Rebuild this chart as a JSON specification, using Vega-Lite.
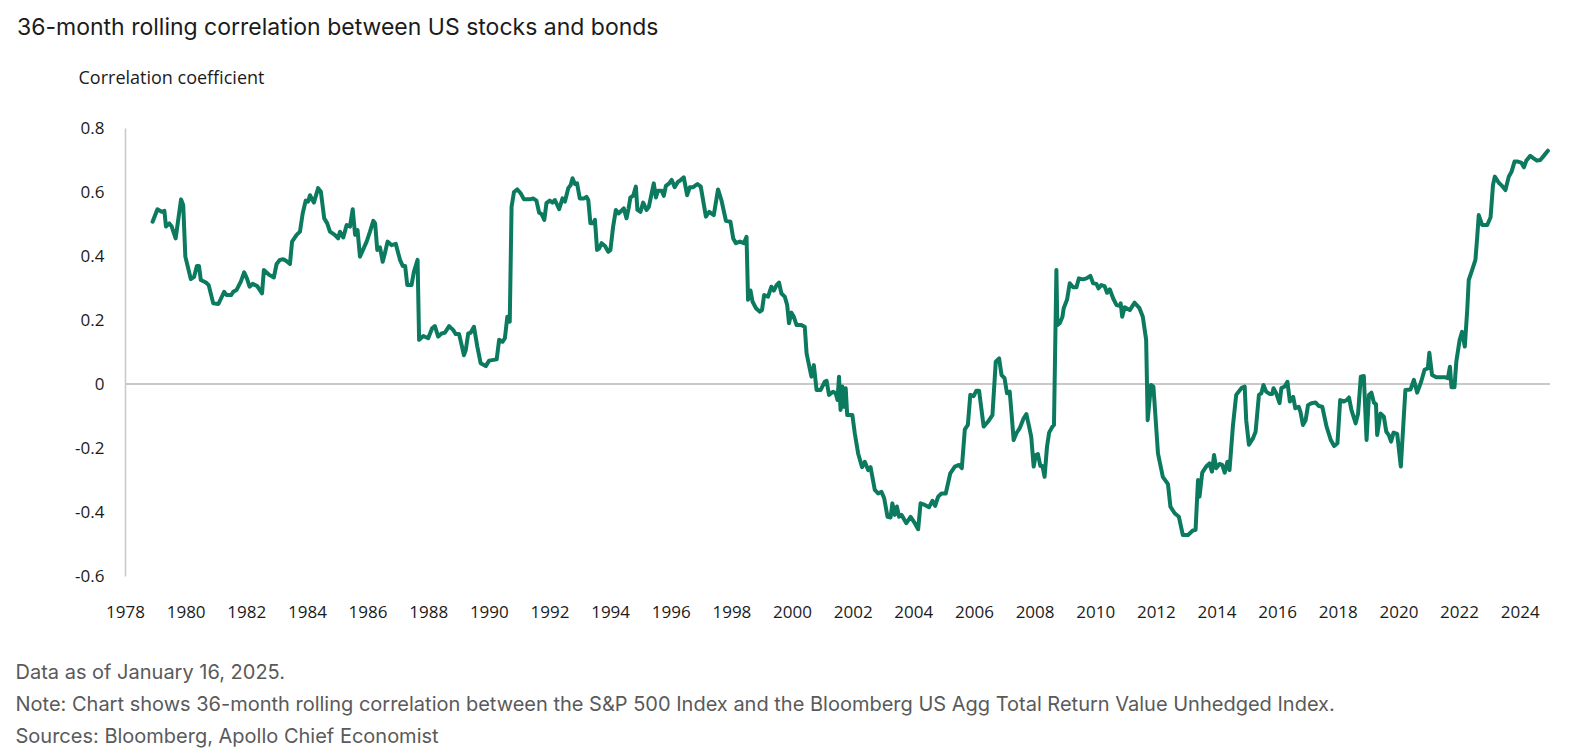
{
  "$schema": "https://vega.github.io/schema/vega-lite/v6.json",
  "autosize": "none",
  "width": 1425,
  "height": 448,
  "padding": {"left": 125, "top": 128, "right": 35, "bottom": 180},
  "background": "white",
  "title": {
    "text": "36-month rolling correlation between US stocks and bonds",
    "anchor": "start",
    "frame": "group",
    "dx": -108,
    "dy": -25,
    "font": "Inter",
    "fontSize": 23,
    "fontWeight": "normal",
    "color": "#1b1b1b"
  },
  "config": {"view": {"stroke": null}},
  "data": {
    "values": [
      {"year": 1978.91, "corr": 0.507}, {"year": 1979.07, "corr": 0.546}, {"year": 1979.21, "corr": 0.538},
      {"year": 1979.30, "corr": 0.541}, {"year": 1979.35, "corr": 0.492}, {"year": 1979.46, "corr": 0.502},
      {"year": 1979.54, "corr": 0.492}, {"year": 1979.67, "corr": 0.455}, {"year": 1979.77, "corr": 0.523},
      {"year": 1979.85, "corr": 0.577}, {"year": 1979.92, "corr": 0.559}, {"year": 1979.99, "corr": 0.398},
      {"year": 1980.17, "corr": 0.328}, {"year": 1980.28, "corr": 0.335}, {"year": 1980.37, "corr": 0.369},
      {"year": 1980.44, "corr": 0.369}, {"year": 1980.50, "corr": 0.325}, {"year": 1980.67, "corr": 0.317},
      {"year": 1980.76, "corr": 0.309}, {"year": 1980.91, "corr": 0.252}, {"year": 1981.08, "corr": 0.250},
      {"year": 1981.27, "corr": 0.288}, {"year": 1981.35, "corr": 0.278}, {"year": 1981.50, "corr": 0.278},
      {"year": 1981.57, "corr": 0.288}, {"year": 1981.68, "corr": 0.294}, {"year": 1981.82, "corr": 0.320},
      {"year": 1981.93, "corr": 0.349}, {"year": 1982.02, "corr": 0.330}, {"year": 1982.11, "corr": 0.304},
      {"year": 1982.21, "corr": 0.313}, {"year": 1982.36, "corr": 0.306}, {"year": 1982.52, "corr": 0.283},
      {"year": 1982.58, "corr": 0.356}, {"year": 1982.76, "corr": 0.341}, {"year": 1982.91, "corr": 0.333},
      {"year": 1983.00, "corr": 0.375}, {"year": 1983.11, "corr": 0.388}, {"year": 1983.22, "corr": 0.390},
      {"year": 1983.31, "corr": 0.385}, {"year": 1983.44, "corr": 0.375}, {"year": 1983.51, "corr": 0.445},
      {"year": 1983.66, "corr": 0.466}, {"year": 1983.77, "corr": 0.476}, {"year": 1983.86, "corr": 0.533},
      {"year": 1983.96, "corr": 0.573}, {"year": 1984.04, "corr": 0.570}, {"year": 1984.10, "corr": 0.590},
      {"year": 1984.23, "corr": 0.567}, {"year": 1984.37, "corr": 0.612}, {"year": 1984.46, "corr": 0.601},
      {"year": 1984.57, "corr": 0.518}, {"year": 1984.67, "corr": 0.502}, {"year": 1984.76, "corr": 0.476},
      {"year": 1984.92, "corr": 0.466}, {"year": 1985.03, "corr": 0.455}, {"year": 1985.09, "corr": 0.476},
      {"year": 1985.20, "corr": 0.458}, {"year": 1985.31, "corr": 0.497}, {"year": 1985.42, "corr": 0.492},
      {"year": 1985.51, "corr": 0.546}, {"year": 1985.59, "corr": 0.466}, {"year": 1985.67, "corr": 0.481},
      {"year": 1985.75, "corr": 0.398}, {"year": 1985.97, "corr": 0.445}, {"year": 1986.08, "corr": 0.476},
      {"year": 1986.19, "corr": 0.510}, {"year": 1986.25, "corr": 0.502}, {"year": 1986.32, "corr": 0.419},
      {"year": 1986.41, "corr": 0.427}, {"year": 1986.50, "corr": 0.382}, {"year": 1986.57, "corr": 0.408},
      {"year": 1986.66, "corr": 0.445}, {"year": 1986.79, "corr": 0.434}, {"year": 1986.93, "corr": 0.438},
      {"year": 1987.07, "corr": 0.388}, {"year": 1987.16, "corr": 0.369}, {"year": 1987.24, "corr": 0.369},
      {"year": 1987.31, "corr": 0.309}, {"year": 1987.45, "corr": 0.309}, {"year": 1987.53, "corr": 0.351},
      {"year": 1987.65, "corr": 0.388}, {"year": 1987.70, "corr": 0.138}, {"year": 1987.84, "corr": 0.150},
      {"year": 1988.00, "corr": 0.143}, {"year": 1988.13, "corr": 0.174}, {"year": 1988.22, "corr": 0.181},
      {"year": 1988.33, "corr": 0.148}, {"year": 1988.44, "corr": 0.158}, {"year": 1988.55, "corr": 0.160},
      {"year": 1988.69, "corr": 0.181}, {"year": 1988.82, "corr": 0.169}, {"year": 1988.91, "corr": 0.156},
      {"year": 1989.02, "corr": 0.156}, {"year": 1989.18, "corr": 0.090}, {"year": 1989.24, "corr": 0.106},
      {"year": 1989.32, "corr": 0.158}, {"year": 1989.40, "corr": 0.160}, {"year": 1989.51, "corr": 0.179},
      {"year": 1989.62, "corr": 0.117}, {"year": 1989.73, "corr": 0.065}, {"year": 1989.90, "corr": 0.056},
      {"year": 1990.01, "corr": 0.073}, {"year": 1990.26, "corr": 0.077}, {"year": 1990.34, "corr": 0.138},
      {"year": 1990.45, "corr": 0.132}, {"year": 1990.53, "corr": 0.143}, {"year": 1990.61, "corr": 0.210},
      {"year": 1990.69, "corr": 0.195}, {"year": 1990.75, "corr": 0.554}, {"year": 1990.83, "corr": 0.600},
      {"year": 1990.94, "corr": 0.608}, {"year": 1991.05, "corr": 0.596}, {"year": 1991.16, "corr": 0.577},
      {"year": 1991.35, "corr": 0.577}, {"year": 1991.46, "corr": 0.580}, {"year": 1991.57, "corr": 0.573},
      {"year": 1991.66, "corr": 0.535}, {"year": 1991.74, "corr": 0.531}, {"year": 1991.83, "corr": 0.513},
      {"year": 1991.90, "corr": 0.565}, {"year": 1992.01, "corr": 0.573}, {"year": 1992.10, "corr": 0.567},
      {"year": 1992.18, "corr": 0.575}, {"year": 1992.32, "corr": 0.546}, {"year": 1992.43, "corr": 0.580},
      {"year": 1992.51, "corr": 0.570}, {"year": 1992.62, "corr": 0.612}, {"year": 1992.70, "corr": 0.622},
      {"year": 1992.76, "corr": 0.643}, {"year": 1992.84, "corr": 0.625}, {"year": 1992.91, "corr": 0.627},
      {"year": 1993.00, "corr": 0.580}, {"year": 1993.14, "corr": 0.580}, {"year": 1993.22, "corr": 0.585},
      {"year": 1993.28, "corr": 0.575}, {"year": 1993.35, "corr": 0.502}, {"year": 1993.44, "corr": 0.502},
      {"year": 1993.50, "corr": 0.513}, {"year": 1993.57, "corr": 0.419}, {"year": 1993.64, "corr": 0.424},
      {"year": 1993.72, "corr": 0.440}, {"year": 1993.83, "corr": 0.431}, {"year": 1993.94, "corr": 0.413},
      {"year": 1994.01, "corr": 0.419}, {"year": 1994.10, "corr": 0.492}, {"year": 1994.19, "corr": 0.544},
      {"year": 1994.28, "corr": 0.533}, {"year": 1994.38, "corr": 0.542}, {"year": 1994.45, "corr": 0.549},
      {"year": 1994.54, "corr": 0.518}, {"year": 1994.61, "corr": 0.549}, {"year": 1994.67, "corr": 0.583},
      {"year": 1994.76, "corr": 0.588}, {"year": 1994.85, "corr": 0.617}, {"year": 1994.90, "corr": 0.544},
      {"year": 1995.00, "corr": 0.538}, {"year": 1995.09, "corr": 0.567}, {"year": 1995.20, "corr": 0.544},
      {"year": 1995.28, "corr": 0.554}, {"year": 1995.37, "corr": 0.596}, {"year": 1995.44, "corr": 0.627},
      {"year": 1995.51, "corr": 0.583}, {"year": 1995.58, "corr": 0.604}, {"year": 1995.70, "corr": 0.604},
      {"year": 1995.77, "corr": 0.588}, {"year": 1995.84, "corr": 0.619}, {"year": 1995.95, "corr": 0.627},
      {"year": 1996.03, "corr": 0.638}, {"year": 1996.13, "corr": 0.615}, {"year": 1996.24, "corr": 0.632},
      {"year": 1996.30, "corr": 0.635}, {"year": 1996.43, "corr": 0.646}, {"year": 1996.54, "corr": 0.590},
      {"year": 1996.63, "corr": 0.615}, {"year": 1996.74, "corr": 0.615}, {"year": 1996.88, "corr": 0.625},
      {"year": 1996.99, "corr": 0.617}, {"year": 1997.16, "corr": 0.523}, {"year": 1997.27, "corr": 0.538},
      {"year": 1997.42, "corr": 0.528}, {"year": 1997.56, "corr": 0.608}, {"year": 1997.67, "corr": 0.575},
      {"year": 1997.82, "corr": 0.510}, {"year": 1997.97, "corr": 0.507}, {"year": 1998.06, "corr": 0.455},
      {"year": 1998.15, "corr": 0.440}, {"year": 1998.28, "corr": 0.445}, {"year": 1998.41, "corr": 0.440},
      {"year": 1998.50, "corr": 0.460}, {"year": 1998.55, "corr": 0.263}, {"year": 1998.63, "corr": 0.292},
      {"year": 1998.70, "corr": 0.257}, {"year": 1998.81, "corr": 0.237}, {"year": 1998.94, "corr": 0.226},
      {"year": 1999.01, "corr": 0.231}, {"year": 1999.08, "corr": 0.278}, {"year": 1999.21, "corr": 0.273},
      {"year": 1999.32, "corr": 0.304}, {"year": 1999.40, "corr": 0.292}, {"year": 1999.49, "corr": 0.309},
      {"year": 1999.57, "corr": 0.317}, {"year": 1999.65, "corr": 0.283}, {"year": 1999.76, "corr": 0.273},
      {"year": 1999.84, "corr": 0.247}, {"year": 1999.90, "corr": 0.190}, {"year": 1999.98, "corr": 0.223},
      {"year": 2000.06, "corr": 0.210}, {"year": 2000.15, "corr": 0.184}, {"year": 2000.31, "corr": 0.184},
      {"year": 2000.42, "corr": 0.179}, {"year": 2000.48, "corr": 0.096}, {"year": 2000.56, "corr": 0.059},
      {"year": 2000.64, "corr": 0.023}, {"year": 2000.72, "corr": 0.059}, {"year": 2000.81, "corr": -0.019},
      {"year": 2000.94, "corr": -0.019}, {"year": 2001.08, "corr": 0.007}, {"year": 2001.14, "corr": 0.010},
      {"year": 2001.22, "corr": -0.034}, {"year": 2001.35, "corr": -0.024}, {"year": 2001.44, "corr": -0.029},
      {"year": 2001.50, "corr": -0.050}, {"year": 2001.55, "corr": 0.023}, {"year": 2001.60, "corr": -0.081},
      {"year": 2001.66, "corr": -0.008}, {"year": 2001.71, "corr": -0.071}, {"year": 2001.77, "corr": -0.013},
      {"year": 2001.82, "corr": -0.097}, {"year": 2001.99, "corr": -0.097}, {"year": 2002.07, "corr": -0.154},
      {"year": 2002.18, "corr": -0.217}, {"year": 2002.31, "corr": -0.260}, {"year": 2002.40, "corr": -0.243},
      {"year": 2002.51, "corr": -0.269}, {"year": 2002.59, "corr": -0.260}, {"year": 2002.73, "corr": -0.331},
      {"year": 2002.84, "corr": -0.342}, {"year": 2002.95, "corr": -0.337}, {"year": 2003.04, "corr": -0.357},
      {"year": 2003.15, "corr": -0.415}, {"year": 2003.25, "corr": -0.417}, {"year": 2003.31, "corr": -0.373},
      {"year": 2003.39, "corr": -0.409}, {"year": 2003.46, "corr": -0.383}, {"year": 2003.53, "corr": -0.415},
      {"year": 2003.61, "corr": -0.409}, {"year": 2003.68, "corr": -0.420}, {"year": 2003.77, "corr": -0.435},
      {"year": 2003.91, "corr": -0.415}, {"year": 2004.05, "corr": -0.435}, {"year": 2004.16, "corr": -0.454},
      {"year": 2004.24, "corr": -0.373}, {"year": 2004.38, "corr": -0.378}, {"year": 2004.52, "corr": -0.385},
      {"year": 2004.63, "corr": -0.365}, {"year": 2004.72, "corr": -0.381}, {"year": 2004.82, "corr": -0.352},
      {"year": 2004.93, "corr": -0.342}, {"year": 2005.07, "corr": -0.342}, {"year": 2005.22, "corr": -0.279},
      {"year": 2005.37, "corr": -0.258}, {"year": 2005.51, "corr": -0.253}, {"year": 2005.60, "corr": -0.263},
      {"year": 2005.70, "corr": -0.142}, {"year": 2005.80, "corr": -0.128}, {"year": 2005.88, "corr": -0.034},
      {"year": 2005.99, "corr": -0.038}, {"year": 2006.08, "corr": -0.021}, {"year": 2006.17, "corr": -0.021},
      {"year": 2006.32, "corr": -0.133}, {"year": 2006.46, "corr": -0.118}, {"year": 2006.61, "corr": -0.097},
      {"year": 2006.72, "corr": 0.070}, {"year": 2006.83, "corr": 0.080}, {"year": 2006.91, "corr": 0.028},
      {"year": 2007.01, "corr": 0.018}, {"year": 2007.09, "corr": -0.029}, {"year": 2007.18, "corr": -0.024},
      {"year": 2007.24, "corr": -0.092}, {"year": 2007.31, "corr": -0.175}, {"year": 2007.40, "corr": -0.154},
      {"year": 2007.51, "corr": -0.138}, {"year": 2007.64, "corr": -0.107}, {"year": 2007.73, "corr": -0.094},
      {"year": 2007.82, "corr": -0.133}, {"year": 2007.89, "corr": -0.165}, {"year": 2007.97, "corr": -0.258},
      {"year": 2008.04, "corr": -0.222}, {"year": 2008.11, "corr": -0.219}, {"year": 2008.19, "corr": -0.256},
      {"year": 2008.26, "corr": -0.256}, {"year": 2008.33, "corr": -0.290}, {"year": 2008.41, "corr": -0.196},
      {"year": 2008.48, "corr": -0.152}, {"year": 2008.59, "corr": -0.133}, {"year": 2008.64, "corr": -0.128},
      {"year": 2008.72, "corr": 0.356}, {"year": 2008.75, "corr": 0.184}, {"year": 2008.83, "corr": 0.190},
      {"year": 2008.92, "corr": 0.210}, {"year": 2008.96, "corr": 0.237}, {"year": 2009.07, "corr": 0.263},
      {"year": 2009.16, "corr": 0.315}, {"year": 2009.27, "corr": 0.302}, {"year": 2009.38, "corr": 0.302},
      {"year": 2009.46, "corr": 0.330}, {"year": 2009.60, "corr": 0.327}, {"year": 2009.71, "corr": 0.330},
      {"year": 2009.84, "corr": 0.338}, {"year": 2009.93, "corr": 0.315}, {"year": 2010.04, "corr": 0.313},
      {"year": 2010.11, "corr": 0.299}, {"year": 2010.20, "corr": 0.309}, {"year": 2010.31, "corr": 0.306},
      {"year": 2010.39, "corr": 0.285}, {"year": 2010.48, "corr": 0.296}, {"year": 2010.59, "corr": 0.268},
      {"year": 2010.70, "corr": 0.247}, {"year": 2010.81, "corr": 0.244}, {"year": 2010.84, "corr": 0.252},
      {"year": 2010.89, "corr": 0.210}, {"year": 2010.97, "corr": 0.240}, {"year": 2011.14, "corr": 0.231},
      {"year": 2011.30, "corr": 0.254}, {"year": 2011.46, "corr": 0.237}, {"year": 2011.57, "corr": 0.210},
      {"year": 2011.68, "corr": 0.138}, {"year": 2011.73, "corr": -0.113}, {"year": 2011.84, "corr": -0.003},
      {"year": 2011.92, "corr": -0.008}, {"year": 2012.07, "corr": -0.217}, {"year": 2012.23, "corr": -0.290},
      {"year": 2012.40, "corr": -0.313}, {"year": 2012.48, "corr": -0.383}, {"year": 2012.62, "corr": -0.404},
      {"year": 2012.76, "corr": -0.415}, {"year": 2012.89, "corr": -0.472}, {"year": 2013.06, "corr": -0.472},
      {"year": 2013.22, "corr": -0.458}, {"year": 2013.31, "corr": -0.456}, {"year": 2013.39, "corr": -0.300},
      {"year": 2013.44, "corr": -0.352}, {"year": 2013.53, "corr": -0.277}, {"year": 2013.66, "corr": -0.258},
      {"year": 2013.77, "corr": -0.248}, {"year": 2013.85, "corr": -0.274}, {"year": 2013.92, "corr": -0.222},
      {"year": 2013.99, "corr": -0.263}, {"year": 2014.10, "corr": -0.250}, {"year": 2014.19, "corr": -0.253},
      {"year": 2014.27, "corr": -0.277}, {"year": 2014.36, "corr": -0.243}, {"year": 2014.43, "corr": -0.269},
      {"year": 2014.54, "corr": -0.133}, {"year": 2014.65, "corr": -0.034}, {"year": 2014.82, "corr": -0.013},
      {"year": 2014.93, "corr": -0.008}, {"year": 2014.98, "corr": -0.113}, {"year": 2015.07, "corr": -0.190},
      {"year": 2015.20, "corr": -0.170}, {"year": 2015.29, "corr": -0.149}, {"year": 2015.40, "corr": -0.034},
      {"year": 2015.48, "corr": -0.029}, {"year": 2015.55, "corr": -0.003}, {"year": 2015.64, "corr": -0.024},
      {"year": 2015.75, "corr": -0.031}, {"year": 2015.84, "corr": -0.031}, {"year": 2015.88, "corr": -0.013},
      {"year": 2015.97, "corr": -0.029}, {"year": 2016.08, "corr": -0.060}, {"year": 2016.14, "corr": -0.013},
      {"year": 2016.25, "corr": -0.008}, {"year": 2016.34, "corr": 0.007}, {"year": 2016.42, "corr": -0.055},
      {"year": 2016.53, "corr": -0.040}, {"year": 2016.60, "corr": -0.076}, {"year": 2016.71, "corr": -0.071},
      {"year": 2016.77, "corr": -0.087}, {"year": 2016.85, "corr": -0.128}, {"year": 2016.94, "corr": -0.113},
      {"year": 2017.02, "corr": -0.066}, {"year": 2017.13, "corr": -0.060}, {"year": 2017.27, "corr": -0.058},
      {"year": 2017.38, "corr": -0.069}, {"year": 2017.49, "corr": -0.071}, {"year": 2017.63, "corr": -0.133},
      {"year": 2017.77, "corr": -0.175}, {"year": 2017.88, "corr": -0.194}, {"year": 2017.99, "corr": -0.185},
      {"year": 2018.08, "corr": -0.050}, {"year": 2018.19, "corr": -0.055}, {"year": 2018.30, "corr": -0.050},
      {"year": 2018.37, "corr": -0.042}, {"year": 2018.45, "corr": -0.081}, {"year": 2018.59, "corr": -0.123},
      {"year": 2018.67, "corr": -0.092}, {"year": 2018.76, "corr": 0.023}, {"year": 2018.86, "corr": 0.025},
      {"year": 2018.95, "corr": -0.175}, {"year": 2019.03, "corr": -0.034}, {"year": 2019.11, "corr": -0.027},
      {"year": 2019.19, "corr": -0.058}, {"year": 2019.26, "corr": -0.063}, {"year": 2019.30, "corr": -0.159},
      {"year": 2019.41, "corr": -0.092}, {"year": 2019.52, "corr": -0.102}, {"year": 2019.60, "corr": -0.149},
      {"year": 2019.68, "corr": -0.159}, {"year": 2019.76, "corr": -0.180}, {"year": 2019.84, "corr": -0.152},
      {"year": 2019.96, "corr": -0.156}, {"year": 2020.08, "corr": -0.258}, {"year": 2020.23, "corr": -0.019},
      {"year": 2020.40, "corr": -0.017}, {"year": 2020.51, "corr": 0.013}, {"year": 2020.62, "corr": -0.027},
      {"year": 2020.75, "corr": 0.007}, {"year": 2020.86, "corr": 0.044}, {"year": 2020.97, "corr": 0.049},
      {"year": 2021.02, "corr": 0.098}, {"year": 2021.11, "corr": 0.028}, {"year": 2021.25, "corr": 0.021},
      {"year": 2021.42, "corr": 0.021}, {"year": 2021.55, "corr": 0.021}, {"year": 2021.63, "corr": 0.018},
      {"year": 2021.70, "corr": 0.054}, {"year": 2021.75, "corr": -0.010}, {"year": 2021.85, "corr": -0.010},
      {"year": 2021.91, "corr": 0.070}, {"year": 2022.02, "corr": 0.138}, {"year": 2022.10, "corr": 0.163},
      {"year": 2022.19, "corr": 0.117}, {"year": 2022.27, "corr": 0.231}, {"year": 2022.32, "corr": 0.325},
      {"year": 2022.43, "corr": 0.356}, {"year": 2022.54, "corr": 0.388}, {"year": 2022.60, "corr": 0.460},
      {"year": 2022.65, "corr": 0.528}, {"year": 2022.76, "corr": 0.497}, {"year": 2022.93, "corr": 0.497},
      {"year": 2023.04, "corr": 0.521}, {"year": 2023.12, "corr": 0.622}, {"year": 2023.18, "corr": 0.648},
      {"year": 2023.31, "corr": 0.629}, {"year": 2023.42, "corr": 0.619}, {"year": 2023.53, "corr": 0.606},
      {"year": 2023.64, "corr": 0.648}, {"year": 2023.73, "corr": 0.663}, {"year": 2023.83, "corr": 0.695},
      {"year": 2023.94, "corr": 0.695}, {"year": 2024.05, "corr": 0.692}, {"year": 2024.14, "corr": 0.677},
      {"year": 2024.22, "corr": 0.698}, {"year": 2024.35, "corr": 0.713}, {"year": 2024.46, "corr": 0.705},
      {"year": 2024.57, "corr": 0.698}, {"year": 2024.68, "corr": 0.700}, {"year": 2024.82, "corr": 0.716},
      {"year": 2024.93, "corr": 0.729}
    ]
  },
  "layer": [
    {
      "mark": {"type": "rule", "color": "#c8c8c8", "strokeWidth": 1.5},
      "encoding": {"y": {"datum": 0, "type": "quantitative"}}
    },
    {
      "mark": {"type": "line", "color": "#0b7a5f", "strokeWidth": 4, "strokeJoin": "round", "strokeCap": "round"},
      "encoding": {
        "x": {
          "field": "year",
          "type": "quantitative",
          "scale": {"domain": [1978, 2025], "nice": false, "zero": false},
          "axis": {
            "values": [1978, 1980, 1982, 1984, 1986, 1988, 1990, 1992, 1994, 1996, 1998, 2000, 2002, 2004, 2006, 2008, 2010, 2012, 2014, 2016, 2018, 2020, 2022, 2024],
            "format": "d",
            "domain": false,
            "ticks": false,
            "tickSize": 0,
            "grid": false,
            "labelFont": "Open Sans",
            "labelFontSize": 17,
            "labelColor": "#1b1b1b",
            "labelPadding": 28,
            "labelFlush": false,
            "labelOverlap": false,
            "title": [
              "Data as of January 16, 2025.",
              "Note: Chart shows 36-month rolling correlation between the S&P 500 Index and the Bloomberg US Agg Total Return Value Unhedged Index.",
              "Sources: Bloomberg, Apollo Chief Economist"
            ],
            "titleX": -110,
            "titleY": 102,
            "titleAlign": "left",
            "titleAnchor": "start",
            "titleBaseline": "alphabetic",
            "titleFont": "Inter",
            "titleFontSize": 20,
            "titleFontWeight": "normal",
            "titleColor": "#5a5a5a",
            "titleLineHeight": 32
          }
        },
        "y": {
          "field": "corr",
          "type": "quantitative",
          "scale": {"domain": [-0.6, 0.8], "nice": false, "zero": false},
          "axis": {
            "values": [-0.6, -0.4, -0.2, 0, 0.2, 0.4, 0.6, 0.8],
            "labelExpr": "datum.value == 0 ? '0' : (datum.value < 0 ? '-' : '') + format(abs(datum.value), '.1f')",
            "ticks": false,
            "tickSize": 0,
            "grid": false,
            "domainColor": "#c8c8c8",
            "domainWidth": 1.5,
            "labelFont": "Open Sans",
            "labelFontSize": 17,
            "labelColor": "#1b1b1b",
            "labelPadding": 21,
            "title": "Correlation coefficient",
            "titleAngle": 0,
            "titleX": -47,
            "titleY": -45,
            "titleAlign": "left",
            "titleBaseline": "alphabetic",
            "titleFont": "Open Sans",
            "titleFontSize": 18,
            "titleFontWeight": "normal",
            "titleColor": "#1b1b1b"
          }
        }
      }
    }
  ]
}
